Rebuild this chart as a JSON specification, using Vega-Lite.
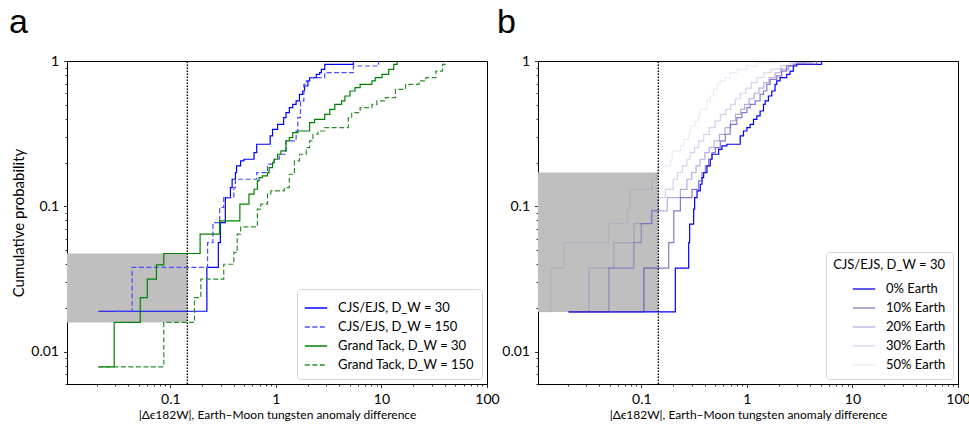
{
  "$schema": "https://vega.github.io/schema/vega-lite/v6.json",
  "padding": {"left": 8, "top": 5, "right": 0, "bottom": 0},
  "spacing": 51,
  "bounds": "flush",
  "resolve": {"scale": {"color": "independent", "strokeDash": "independent"}, "legend": {"color": "independent", "strokeDash": "independent"}},
  "datasets": {
    "a": [
      {"s": "CJS/EJS, D_W = 30", "x": 0.0208, "p": 0.019},
      {"s": "CJS/EJS, D_W = 30", "x": 0.222, "p": 0.038},
      {"s": "CJS/EJS, D_W = 30", "x": 0.285, "p": 0.0564},
      {"s": "CJS/EJS, D_W = 30", "x": 0.298, "p": 0.0774},
      {"s": "CJS/EJS, D_W = 30", "x": 0.332, "p": 0.115},
      {"s": "CJS/EJS, D_W = 30", "x": 0.371, "p": 0.1347},
      {"s": "CJS/EJS, D_W = 30", "x": 0.385, "p": 0.1537},
      {"s": "CJS/EJS, D_W = 30", "x": 0.414, "p": 0.1708},
      {"s": "CJS/EJS, D_W = 30", "x": 0.424, "p": 0.19},
      {"s": "CJS/EJS, D_W = 30", "x": 0.463, "p": 0.2055},
      {"s": "CJS/EJS, D_W = 30", "x": 0.498, "p": 0.2109},
      {"s": "CJS/EJS, D_W = 30", "x": 0.621, "p": 0.2344},
      {"s": "CJS/EJS, D_W = 30", "x": 0.658, "p": 0.2675},
      {"s": "CJS/EJS, D_W = 30", "x": 0.883, "p": 0.305},
      {"s": "CJS/EJS, D_W = 30", "x": 0.93, "p": 0.339},
      {"s": "CJS/EJS, D_W = 30", "x": 1.038, "p": 0.367},
      {"s": "CJS/EJS, D_W = 30", "x": 1.185, "p": 0.408},
      {"s": "CJS/EJS, D_W = 30", "x": 1.247, "p": 0.4415},
      {"s": "CJS/EJS, D_W = 30", "x": 1.342, "p": 0.4778},
      {"s": "CJS/EJS, D_W = 30", "x": 1.445, "p": 0.5037},
      {"s": "CJS/EJS, D_W = 30", "x": 1.555, "p": 0.531},
      {"s": "CJS/EJS, D_W = 30", "x": 1.673, "p": 0.59},
      {"s": "CJS/EJS, D_W = 30", "x": 1.801, "p": 0.622},
      {"s": "CJS/EJS, D_W = 30", "x": 1.868, "p": 0.673},
      {"s": "CJS/EJS, D_W = 30", "x": 2.011, "p": 0.729},
      {"s": "CJS/EJS, D_W = 30", "x": 2.086, "p": 0.768},
      {"s": "CJS/EJS, D_W = 30", "x": 2.416, "p": 0.81},
      {"s": "CJS/EJS, D_W = 30", "x": 2.6, "p": 0.831},
      {"s": "CJS/EJS, D_W = 30", "x": 2.697, "p": 0.877},
      {"s": "CJS/EJS, D_W = 30", "x": 2.903, "p": 0.949},
      {"s": "CJS/EJS, D_W = 30", "x": 5.42, "p": 1},
      {"s": "CJS/EJS, D_W = 150", "x": 0.03, "p": 0.019},
      {"s": "CJS/EJS, D_W = 150", "x": 0.0435, "p": 0.038},
      {"s": "CJS/EJS, D_W = 150", "x": 0.2254, "p": 0.0564},
      {"s": "CJS/EJS, D_W = 150", "x": 0.2533, "p": 0.0774},
      {"s": "CJS/EJS, D_W = 150", "x": 0.2935, "p": 0.0982},
      {"s": "CJS/EJS, D_W = 150", "x": 0.3206, "p": 0.115},
      {"s": "CJS/EJS, D_W = 150", "x": 0.3996, "p": 0.1347},
      {"s": "CJS/EJS, D_W = 150", "x": 0.414, "p": 0.1537},
      {"s": "CJS/EJS, D_W = 150", "x": 0.658, "p": 0.1708},
      {"s": "CJS/EJS, D_W = 150", "x": 0.833, "p": 0.195},
      {"s": "CJS/EJS, D_W = 150", "x": 0.9645, "p": 0.2109},
      {"s": "CJS/EJS, D_W = 150", "x": 1.077, "p": 0.2283},
      {"s": "CJS/EJS, D_W = 150", "x": 1.247, "p": 0.282},
      {"s": "CJS/EJS, D_W = 150", "x": 1.555, "p": 0.33},
      {"s": "CJS/EJS, D_W = 150", "x": 1.613, "p": 0.408},
      {"s": "CJS/EJS, D_W = 150", "x": 1.71, "p": 0.531},
      {"s": "CJS/EJS, D_W = 150", "x": 1.841, "p": 0.691},
      {"s": "CJS/EJS, D_W = 150", "x": 1.939, "p": 0.729},
      {"s": "CJS/EJS, D_W = 150", "x": 2.086, "p": 0.768},
      {"s": "CJS/EJS, D_W = 150", "x": 2.903, "p": 0.831},
      {"s": "CJS/EJS, D_W = 150", "x": 5.42, "p": 0.924},
      {"s": "CJS/EJS, D_W = 150", "x": 9.4, "p": 1},
      {"s": "Grand Tack, D_W = 30", "x": 0.0208, "p": 0.00788},
      {"s": "Grand Tack, D_W = 30", "x": 0.0294, "p": 0.0159},
      {"s": "Grand Tack, D_W = 30", "x": 0.0519, "p": 0.0236},
      {"s": "Grand Tack, D_W = 30", "x": 0.0605, "p": 0.0316},
      {"s": "Grand Tack, D_W = 30", "x": 0.0738, "p": 0.0396},
      {"s": "Grand Tack, D_W = 30", "x": 0.0867, "p": 0.0474},
      {"s": "Grand Tack, D_W = 30", "x": 0.1915, "p": 0.0644},
      {"s": "Grand Tack, D_W = 30", "x": 0.2935, "p": 0.0795},
      {"s": "Grand Tack, D_W = 30", "x": 0.456, "p": 0.1035},
      {"s": "Grand Tack, D_W = 30", "x": 0.556, "p": 0.1213},
      {"s": "Grand Tack, D_W = 30", "x": 0.621, "p": 0.1312},
      {"s": "Grand Tack, D_W = 30", "x": 0.668, "p": 0.1497},
      {"s": "Grand Tack, D_W = 30", "x": 0.693, "p": 0.1578},
      {"s": "Grand Tack, D_W = 30", "x": 0.746, "p": 0.1621},
      {"s": "Grand Tack, D_W = 30", "x": 0.833, "p": 0.1708},
      {"s": "Grand Tack, D_W = 30", "x": 0.864, "p": 0.1849},
      {"s": "Grand Tack, D_W = 30", "x": 0.93, "p": 0.2001},
      {"s": "Grand Tack, D_W = 30", "x": 0.9645, "p": 0.2109},
      {"s": "Grand Tack, D_W = 30", "x": 1.038, "p": 0.2283},
      {"s": "Grand Tack, D_W = 30", "x": 1.117, "p": 0.2406},
      {"s": "Grand Tack, D_W = 30", "x": 1.247, "p": 0.282},
      {"s": "Grand Tack, D_W = 30", "x": 1.342, "p": 0.297},
      {"s": "Grand Tack, D_W = 30", "x": 1.445, "p": 0.3217},
      {"s": "Grand Tack, D_W = 30", "x": 1.613, "p": 0.33},
      {"s": "Grand Tack, D_W = 30", "x": 2.086, "p": 0.3768},
      {"s": "Grand Tack, D_W = 30", "x": 2.328, "p": 0.3972},
      {"s": "Grand Tack, D_W = 30", "x": 2.903, "p": 0.43},
      {"s": "Grand Tack, D_W = 30", "x": 3.241, "p": 0.465},
      {"s": "Grand Tack, D_W = 30", "x": 3.618, "p": 0.5037},
      {"s": "Grand Tack, D_W = 30", "x": 4.192, "p": 0.531},
      {"s": "Grand Tack, D_W = 30", "x": 4.51, "p": 0.5745},
      {"s": "Grand Tack, D_W = 30", "x": 5.035, "p": 0.622},
      {"s": "Grand Tack, D_W = 30", "x": 5.62, "p": 0.656},
      {"s": "Grand Tack, D_W = 30", "x": 6.28, "p": 0.691},
      {"s": "Grand Tack, D_W = 30", "x": 8.12, "p": 0.729},
      {"s": "Grand Tack, D_W = 30", "x": 8.74, "p": 0.768},
      {"s": "Grand Tack, D_W = 30", "x": 10.12, "p": 0.81},
      {"s": "Grand Tack, D_W = 30", "x": 11.72, "p": 0.877},
      {"s": "Grand Tack, D_W = 30", "x": 13.08, "p": 0.949},
      {"s": "Grand Tack, D_W = 30", "x": 14.08, "p": 1},
      {"s": "Grand Tack, D_W = 150", "x": 0.0208, "p": 0.00788},
      {"s": "Grand Tack, D_W = 150", "x": 0.0867, "p": 0.0159},
      {"s": "Grand Tack, D_W = 150", "x": 0.1694, "p": 0.0236},
      {"s": "Grand Tack, D_W = 150", "x": 0.1945, "p": 0.0316},
      {"s": "Grand Tack, D_W = 150", "x": 0.3206, "p": 0.04},
      {"s": "Grand Tack, D_W = 150", "x": 0.3996, "p": 0.0482},
      {"s": "Grand Tack, D_W = 150", "x": 0.43, "p": 0.0644},
      {"s": "Grand Tack, D_W = 150", "x": 0.463, "p": 0.0723},
      {"s": "Grand Tack, D_W = 150", "x": 0.668, "p": 0.0956},
      {"s": "Grand Tack, D_W = 150", "x": 0.719, "p": 0.1035},
      {"s": "Grand Tack, D_W = 150", "x": 0.833, "p": 0.1213},
      {"s": "Grand Tack, D_W = 150", "x": 0.896, "p": 0.1278},
      {"s": "Grand Tack, D_W = 150", "x": 1.202, "p": 0.1347},
      {"s": "Grand Tack, D_W = 150", "x": 1.342, "p": 0.1663},
      {"s": "Grand Tack, D_W = 150", "x": 1.499, "p": 0.2055},
      {"s": "Grand Tack, D_W = 150", "x": 1.673, "p": 0.2283},
      {"s": "Grand Tack, D_W = 150", "x": 1.939, "p": 0.2537},
      {"s": "Grand Tack, D_W = 150", "x": 2.086, "p": 0.282},
      {"s": "Grand Tack, D_W = 150", "x": 2.245, "p": 0.3133},
      {"s": "Grand Tack, D_W = 150", "x": 2.506, "p": 0.33},
      {"s": "Grand Tack, D_W = 150", "x": 2.903, "p": 0.348},
      {"s": "Grand Tack, D_W = 150", "x": 4.855, "p": 0.408},
      {"s": "Grand Tack, D_W = 150", "x": 5.224, "p": 0.4415},
      {"s": "Grand Tack, D_W = 150", "x": 6.28, "p": 0.4778},
      {"s": "Grand Tack, D_W = 150", "x": 8.12, "p": 0.5037},
      {"s": "Grand Tack, D_W = 150", "x": 9.06, "p": 0.531},
      {"s": "Grand Tack, D_W = 150", "x": 10.89, "p": 0.5598},
      {"s": "Grand Tack, D_W = 150", "x": 13.57, "p": 0.6385},
      {"s": "Grand Tack, D_W = 150", "x": 16.92, "p": 0.691},
      {"s": "Grand Tack, D_W = 150", "x": 22.7, "p": 0.729},
      {"s": "Grand Tack, D_W = 150", "x": 26.3, "p": 0.768},
      {"s": "Grand Tack, D_W = 150", "x": 32.8, "p": 0.853},
      {"s": "Grand Tack, D_W = 150", "x": 37.9, "p": 0.949},
      {"s": "Grand Tack, D_W = 150", "x": 40.8, "p": 1}
    ],
    "b": [
      {"s": "0% Earth", "x": 0.0205, "p": 0.0188},
      {"s": "0% Earth", "x": 0.21, "p": 0.0376},
      {"s": "0% Earth", "x": 0.281, "p": 0.0564},
      {"s": "0% Earth", "x": 0.287, "p": 0.0754},
      {"s": "0% Earth", "x": 0.313, "p": 0.0956},
      {"s": "0% Earth", "x": 0.32, "p": 0.115},
      {"s": "0% Earth", "x": 0.337, "p": 0.1278},
      {"s": "0% Earth", "x": 0.362, "p": 0.142},
      {"s": "0% Earth", "x": 0.3756, "p": 0.1578},
      {"s": "0% Earth", "x": 0.3894, "p": 0.1708},
      {"s": "0% Earth", "x": 0.4186, "p": 0.19},
      {"s": "0% Earth", "x": 0.45, "p": 0.2109},
      {"s": "0% Earth", "x": 0.467, "p": 0.2283},
      {"s": "0% Earth", "x": 0.54, "p": 0.247},
      {"s": "0% Earth", "x": 0.58, "p": 0.2604},
      {"s": "0% Earth", "x": 0.647, "p": 0.2675},
      {"s": "0% Earth", "x": 0.8643, "p": 0.305},
      {"s": "0% Earth", "x": 0.929, "p": 0.33},
      {"s": "0% Earth", "x": 0.999, "p": 0.348},
      {"s": "0% Earth", "x": 1.074, "p": 0.367},
      {"s": "0% Earth", "x": 1.155, "p": 0.3972},
      {"s": "0% Earth", "x": 1.242, "p": 0.4188},
      {"s": "0% Earth", "x": 1.335, "p": 0.453},
      {"s": "0% Earth", "x": 1.436, "p": 0.5037},
      {"s": "0% Earth", "x": 1.489, "p": 0.531},
      {"s": "0% Earth", "x": 1.6, "p": 0.5745},
      {"s": "0% Earth", "x": 1.721, "p": 0.622},
      {"s": "0% Earth", "x": 1.85, "p": 0.691},
      {"s": "0% Earth", "x": 1.918, "p": 0.729},
      {"s": "0% Earth", "x": 2.062, "p": 0.768},
      {"s": "0% Earth", "x": 2.384, "p": 0.81},
      {"s": "0% Earth", "x": 2.563, "p": 0.853},
      {"s": "0% Earth", "x": 2.756, "p": 0.924},
      {"s": "0% Earth", "x": 2.963, "p": 0.949},
      {"s": "0% Earth", "x": 5.1, "p": 1},
      {"s": "10% Earth", "x": 0.0205, "p": 0.0188},
      {"s": "10% Earth", "x": 0.1057, "p": 0.0376},
      {"s": "10% Earth", "x": 0.182, "p": 0.0564},
      {"s": "10% Earth", "x": 0.203, "p": 0.0931},
      {"s": "10% Earth", "x": 0.2345, "p": 0.115},
      {"s": "10% Earth", "x": 0.302, "p": 0.131},
      {"s": "10% Earth", "x": 0.349, "p": 0.1497},
      {"s": "10% Earth", "x": 0.3756, "p": 0.1708},
      {"s": "10% Earth", "x": 0.404, "p": 0.19},
      {"s": "10% Earth", "x": 0.434, "p": 0.2109},
      {"s": "10% Earth", "x": 0.467, "p": 0.2344},
      {"s": "10% Earth", "x": 0.502, "p": 0.2537},
      {"s": "10% Earth", "x": 0.5596, "p": 0.282},
      {"s": "10% Earth", "x": 0.624, "p": 0.3133},
      {"s": "10% Earth", "x": 0.696, "p": 0.367},
      {"s": "10% Earth", "x": 0.804, "p": 0.408},
      {"s": "10% Earth", "x": 0.896, "p": 0.4415},
      {"s": "10% Earth", "x": 0.999, "p": 0.4778},
      {"s": "10% Earth", "x": 1.074, "p": 0.5037},
      {"s": "10% Earth", "x": 1.198, "p": 0.531},
      {"s": "10% Earth", "x": 1.335, "p": 0.59},
      {"s": "10% Earth", "x": 1.436, "p": 0.622},
      {"s": "10% Earth", "x": 1.543, "p": 0.691},
      {"s": "10% Earth", "x": 1.66, "p": 0.748},
      {"s": "10% Earth", "x": 1.918, "p": 0.789},
      {"s": "10% Earth", "x": 2.138, "p": 0.853},
      {"s": "10% Earth", "x": 2.384, "p": 0.924},
      {"s": "10% Earth", "x": 2.756, "p": 0.949},
      {"s": "10% Earth", "x": 4.58, "p": 1},
      {"s": "20% Earth", "x": 0.0205, "p": 0.0188},
      {"s": "20% Earth", "x": 0.0493, "p": 0.0376},
      {"s": "20% Earth", "x": 0.0849, "p": 0.0564},
      {"s": "20% Earth", "x": 0.1, "p": 0.0762},
      {"s": "20% Earth", "x": 0.125, "p": 0.0931},
      {"s": "20% Earth", "x": 0.176, "p": 0.115},
      {"s": "20% Earth", "x": 0.2345, "p": 0.131},
      {"s": "20% Earth", "x": 0.27, "p": 0.1537},
      {"s": "20% Earth", "x": 0.3, "p": 0.171},
      {"s": "20% Earth", "x": 0.33, "p": 0.19},
      {"s": "20% Earth", "x": 0.36, "p": 0.2109},
      {"s": "20% Earth", "x": 0.4, "p": 0.234},
      {"s": "20% Earth", "x": 0.44, "p": 0.2537},
      {"s": "20% Earth", "x": 0.49, "p": 0.282},
      {"s": "20% Earth", "x": 0.55, "p": 0.313},
      {"s": "20% Earth", "x": 0.62, "p": 0.348},
      {"s": "20% Earth", "x": 0.7, "p": 0.387},
      {"s": "20% Earth", "x": 0.78, "p": 0.43},
      {"s": "20% Earth", "x": 0.87, "p": 0.465},
      {"s": "20% Earth", "x": 0.95, "p": 0.5037},
      {"s": "20% Earth", "x": 1.05, "p": 0.55},
      {"s": "20% Earth", "x": 1.17, "p": 0.6},
      {"s": "20% Earth", "x": 1.3, "p": 0.65},
      {"s": "20% Earth", "x": 1.45, "p": 0.71},
      {"s": "20% Earth", "x": 1.62, "p": 0.77},
      {"s": "20% Earth", "x": 1.85, "p": 0.83},
      {"s": "20% Earth", "x": 2.1, "p": 0.88},
      {"s": "20% Earth", "x": 2.5, "p": 0.93},
      {"s": "20% Earth", "x": 3.0, "p": 0.97},
      {"s": "20% Earth", "x": 4.2, "p": 1},
      {"s": "30% Earth", "x": 0.0205, "p": 0.0188},
      {"s": "30% Earth", "x": 0.0319, "p": 0.0376},
      {"s": "30% Earth", "x": 0.055, "p": 0.0564},
      {"s": "30% Earth", "x": 0.085, "p": 0.0762},
      {"s": "30% Earth", "x": 0.1266, "p": 0.094},
      {"s": "30% Earth", "x": 0.145, "p": 0.115},
      {"s": "30% Earth", "x": 0.169, "p": 0.131},
      {"s": "30% Earth", "x": 0.2, "p": 0.1537},
      {"s": "30% Earth", "x": 0.22, "p": 0.171},
      {"s": "30% Earth", "x": 0.245, "p": 0.19},
      {"s": "30% Earth", "x": 0.27, "p": 0.2109},
      {"s": "30% Earth", "x": 0.29, "p": 0.234},
      {"s": "30% Earth", "x": 0.32, "p": 0.2537},
      {"s": "30% Earth", "x": 0.35, "p": 0.282},
      {"s": "30% Earth", "x": 0.39, "p": 0.313},
      {"s": "30% Earth", "x": 0.44, "p": 0.348},
      {"s": "30% Earth", "x": 0.5, "p": 0.387},
      {"s": "30% Earth", "x": 0.56, "p": 0.43},
      {"s": "30% Earth", "x": 0.63, "p": 0.465},
      {"s": "30% Earth", "x": 0.7, "p": 0.5037},
      {"s": "30% Earth", "x": 0.78, "p": 0.55},
      {"s": "30% Earth", "x": 0.87, "p": 0.6},
      {"s": "30% Earth", "x": 0.98, "p": 0.65},
      {"s": "30% Earth", "x": 1.1, "p": 0.71},
      {"s": "30% Earth", "x": 1.25, "p": 0.77},
      {"s": "30% Earth", "x": 1.45, "p": 0.83},
      {"s": "30% Earth", "x": 1.7, "p": 0.88},
      {"s": "30% Earth", "x": 2.1, "p": 0.93},
      {"s": "30% Earth", "x": 2.6, "p": 0.97},
      {"s": "30% Earth", "x": 3.6, "p": 1},
      {"s": "50% Earth", "x": 0.0105, "p": 0.0188},
      {"s": "50% Earth", "x": 0.0139, "p": 0.0376},
      {"s": "50% Earth", "x": 0.0185, "p": 0.0564},
      {"s": "50% Earth", "x": 0.0493, "p": 0.0762},
      {"s": "50% Earth", "x": 0.0735, "p": 0.0956},
      {"s": "50% Earth", "x": 0.0785, "p": 0.131},
      {"s": "50% Earth", "x": 0.1266, "p": 0.1537},
      {"s": "50% Earth", "x": 0.138, "p": 0.171},
      {"s": "50% Earth", "x": 0.142, "p": 0.19},
      {"s": "50% Earth", "x": 0.1887, "p": 0.2055},
      {"s": "50% Earth", "x": 0.1956, "p": 0.2406},
      {"s": "50% Earth", "x": 0.2345, "p": 0.2604},
      {"s": "50% Earth", "x": 0.252, "p": 0.2893},
      {"s": "50% Earth", "x": 0.281, "p": 0.3133},
      {"s": "50% Earth", "x": 0.2913, "p": 0.3573},
      {"s": "50% Earth", "x": 0.325, "p": 0.387},
      {"s": "50% Earth", "x": 0.349, "p": 0.43},
      {"s": "50% Earth", "x": 0.362, "p": 0.465},
      {"s": "50% Earth", "x": 0.4186, "p": 0.531},
      {"s": "50% Earth", "x": 0.45, "p": 0.5745},
      {"s": "50% Earth", "x": 0.484, "p": 0.6385},
      {"s": "50% Earth", "x": 0.52, "p": 0.691},
      {"s": "50% Earth", "x": 0.5596, "p": 0.729},
      {"s": "50% Earth", "x": 0.624, "p": 0.768},
      {"s": "50% Earth", "x": 0.696, "p": 0.831},
      {"s": "50% Earth", "x": 0.804, "p": 0.877},
      {"s": "50% Earth", "x": 0.999, "p": 0.924},
      {"s": "50% Earth", "x": 1.242, "p": 0.974},
      {"s": "50% Earth", "x": 2.062, "p": 1}
    ]
  },
  "hconcat": [
    {
      "title": {"text": "a", "anchor": "start", "frame": "group", "dx": -58, "fontSize": 34, "font": "Liberation Sans", "fontWeight": "normal", "offset": 14, "color": "black"},
      "width": 420,
      "height": 323,
      "encoding": {
        "x": {"field": "x", "type": "quantitative", "scale": {"type": "log", "domain": [0.0105, 100], "nice": false},
          "axis": {
            "title": "|Δϵ182W|, Earth–Moon tungsten anomaly difference",
            "values": [0.02,0.03,0.04,0.05,0.06,0.07,0.08,0.09,0.1,0.2,0.3,0.4,0.5,0.6,0.7,0.8,0.9,1,2,3,4,5,6,7,8,9,10,20,30,40,50,60,70,80,90,100],
            "format": "~g",
            "labelExpr": "abs(log(datum.value)/LN10 - round(log(datum.value)/LN10)) < 0.01 ? datum.label : ''",
            "tickSize": {"condition": {"test": "abs(log(datum.value)/LN10 - round(log(datum.value)/LN10)) < 0.01", "value": 3.5}, "value": 2}
          }
        },
        "y": {"field": "p", "type": "quantitative", "scale": {"type": "log", "domain": [0.006, 1], "nice": false},
          "axis": {
            "title": "Cumulative probability",
            "minExtent": 34, "maxExtent": 34, "titlePadding": 7, "titleFontSize": 15,
            "values": [0.006,0.007,0.008,0.009,0.01,0.02,0.03,0.04,0.05,0.06,0.07,0.08,0.09,0.1,0.2,0.3,0.4,0.5,0.6,0.7,0.8,0.9,1],
            "format": "~g",
            "labelExpr": "abs(log(datum.value)/LN10 - round(log(datum.value)/LN10)) < 0.01 ? datum.label : ''",
            "tickSize": {"condition": {"test": "abs(log(datum.value)/LN10 - round(log(datum.value)/LN10)) < 0.01", "value": 3.5}, "value": 2}
          }
        }
      },
      "layer": [
        {
          "data": {"values": [{"x": 0.0105, "xe": 0.145, "p": 0.0159, "pe": 0.0474}]},
          "mark": {"type": "rect", "color": "#c0bfc0"},
          "encoding": {"x2": {"field": "xe"}, "y2": {"field": "pe"}}
        },
        {
          "data": {"name": "a"},
          "mark": {"type": "line", "interpolate": "step-after", "strokeWidth": 1.2},
          "encoding": {
            "color": {"field": "s", "type": "nominal", "title": null,
              "scale": {"domain": ["CJS/EJS, D_W = 30", "CJS/EJS, D_W = 150", "Grand Tack, D_W = 30", "Grand Tack, D_W = 150"],
                        "range": ["#0000ff", "#4b4bff", "#008000", "#2a8f2a"]},
              "legend": {"orient": "bottom-right", "offset": 5}
            },
            "strokeDash": {"field": "s", "type": "nominal", "title": null,
              "scale": {"domain": ["CJS/EJS, D_W = 30", "CJS/EJS, D_W = 150", "Grand Tack, D_W = 30", "Grand Tack, D_W = 150"],
                        "range": [[1, 0], [5, 2.5], [1, 0], [5, 2.5]]},
              "legend": {"orient": "bottom-right", "offset": 5}
            }
          }
        },
        {
          "data": {"values": [{"x": 0.145, "p": 0.006, "pe": 1}]},
          "mark": {"type": "rule", "color": "black", "strokeDash": [1.5, 1.5], "strokeWidth": 1.4},
          "encoding": {"y2": {"field": "pe"}}
        }
      ]
    },
    {
      "title": {"text": "b", "anchor": "start", "frame": "group", "dx": -41, "fontSize": 34, "font": "Liberation Sans", "fontWeight": "normal", "offset": 14, "color": "black"},
      "width": 420,
      "height": 323,
      "encoding": {
        "x": {"field": "x", "type": "quantitative", "scale": {"type": "log", "domain": [0.0105, 100], "nice": false},
          "axis": {
            "title": "|Δϵ182W|, Earth–Moon tungsten anomaly difference",
            "values": [0.02,0.03,0.04,0.05,0.06,0.07,0.08,0.09,0.1,0.2,0.3,0.4,0.5,0.6,0.7,0.8,0.9,1,2,3,4,5,6,7,8,9,10,20,30,40,50,60,70,80,90,100],
            "format": "~g",
            "labelExpr": "abs(log(datum.value)/LN10 - round(log(datum.value)/LN10)) < 0.01 ? datum.label : ''",
            "tickSize": {"condition": {"test": "abs(log(datum.value)/LN10 - round(log(datum.value)/LN10)) < 0.01", "value": 3.5}, "value": 2}
          }
        },
        "y": {"field": "p", "type": "quantitative", "scale": {"type": "log", "domain": [0.006, 1], "nice": false},
          "axis": {
            "title": null,
            "values": [0.006,0.007,0.008,0.009,0.01,0.02,0.03,0.04,0.05,0.06,0.07,0.08,0.09,0.1,0.2,0.3,0.4,0.5,0.6,0.7,0.8,0.9,1],
            "format": "~g",
            "labelExpr": "abs(log(datum.value)/LN10 - round(log(datum.value)/LN10)) < 0.01 ? datum.label : ''",
            "tickSize": {"condition": {"test": "abs(log(datum.value)/LN10 - round(log(datum.value)/LN10)) < 0.01", "value": 3.5}, "value": 2}
          }
        }
      },
      "layer": [
        {
          "data": {"values": [{"x": 0.0105, "xe": 0.145, "p": 0.0188, "pe": 0.171}]},
          "mark": {"type": "rect", "color": "#c0bfc0"},
          "encoding": {"x2": {"field": "xe"}, "y2": {"field": "pe"}}
        },
        {
          "data": {"name": "b"},
          "mark": {"type": "line", "interpolate": "step-after", "strokeWidth": 1.2},
          "encoding": {
            "color": {"field": "s", "type": "nominal", "title": "CJS/EJS, D_W = 30",
              "scale": {"domain": ["0% Earth", "10% Earth", "20% Earth", "30% Earth", "50% Earth"],
                        "range": ["#0000ff", "rgba(75,47,176,0.65)", "rgba(75,47,176,0.4)", "rgba(75,47,176,0.22)", "rgba(75,47,176,0.1)"]},
              "legend": {"orient": "bottom-right", "offset": 5, "titleAnchor": "end"}
            }
          }
        },
        {
          "data": {"values": [{"x": 0.145, "p": 0.006, "pe": 1}]},
          "mark": {"type": "rule", "color": "black", "strokeDash": [1.5, 1.5], "strokeWidth": 1.4},
          "encoding": {"y2": {"field": "pe"}}
        }
      ]
    }
  ],
  "config": {
    "font": "Lato",
    "view": {"stroke": "black", "strokeWidth": 1},
    "axis": {
      "grid": false, "domainColor": "black", "tickColor": "black", "labelColor": "black", "titleColor": "black",
      "labelFontSize": 14, "titleFontSize": 12, "titleFontWeight": "normal", "tickWidth": 0.8, "domainWidth": 1,
      "labelPadding": 5, "labelOverlap": false, "labelFlush": false
    },
    "axisX": {"titlePadding": 3},
    "legend": {
      "labelFontSize": 13, "titleFontSize": 13, "titleFontWeight": "normal", "titleColor": "black", "labelColor": "black",
      "fillColor": "white", "strokeColor": "#d6d6d6", "padding": 7, "cornerRadius": 3,
      "symbolType": "stroke", "symbolSize": 500, "symbolStrokeWidth": 1.3, "rowPadding": 0, "labelOffset": 10
    }
  }
}
